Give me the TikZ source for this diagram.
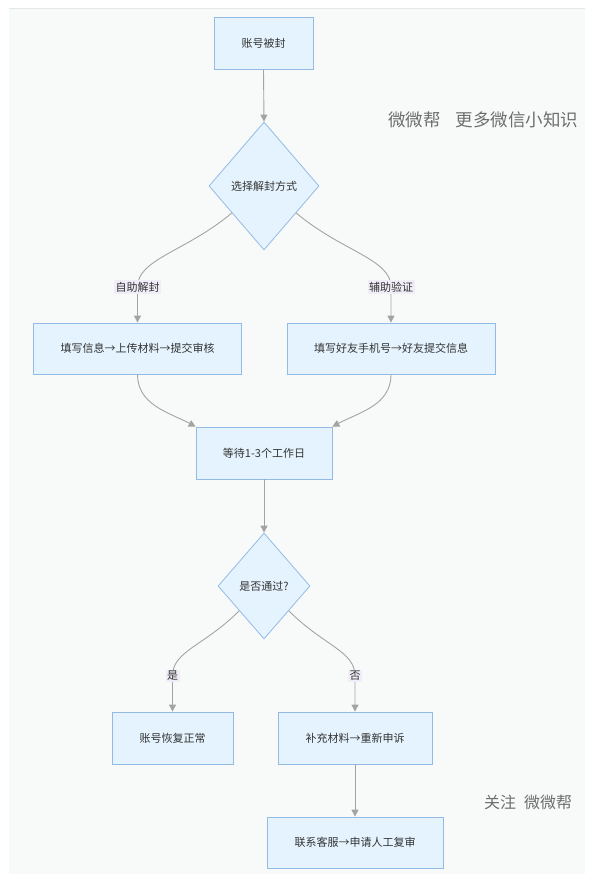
\documentclass[tikz,border=0pt]{standalone}
\usepackage{fontspec}
\setmainfont{Noto Sans CJK SC}
\usetikzlibrary{shapes.geometric,arrows.meta}
\definecolor{panel}{HTML}{F8FAFA}
\definecolor{panelline}{HTML}{E4E7E7}
\definecolor{boxfill}{HTML}{E4F3FD}
\definecolor{boxline}{HTML}{93BBE6}
\definecolor{txt}{HTML}{333333}
\definecolor{arrowc}{HTML}{A3A3A3}
\definecolor{lblfill}{HTML}{F1EDF8}
\definecolor{wmc}{HTML}{6E6E6E}
\begin{document}
\begin{tikzpicture}[x=1pt,y=1pt,
  box/.style={draw=boxline, fill=boxfill, line width=0.8pt, text=txt,
    font=\fontsize{11}{13}\selectfont, inner sep=0pt, minimum height=52pt},
  dia/.style={diamond, draw=boxline, fill=boxfill, line width=0.8pt, text=txt,
    font=\fontsize{11}{13}\selectfont, inner sep=0pt},
  arr/.style={draw=arrowc, line width=0.9pt, -{Triangle[length=7pt,width=7pt]}},
  lbl/.style={fill=lblfill, text=txt, font=\fontsize{11}{13}\selectfont, inner sep=1.5pt},
  wm/.style={text=wmc, inner sep=0pt, anchor=west}
]
\useasboundingbox (0,0) rectangle (595,-883);
\fill[white] (0,0) rectangle (595,-883);
\fill[panel] (9,-8) rectangle (585,-874);
\draw[panelline, line width=0.8pt] (9,-8.5) -- (585,-8.5);

% nodes
\node[box, minimum width=99pt] (b1) at (263.5,-43) {账号被封};
\node[dia, minimum width=110pt, minimum height=128pt] (d1) at (264,-186) {选择解封方式};
\node[box, minimum width=208pt, minimum height=51pt] (L) at (137.5,-348.5) {填写信息→上传材料→提交审核};
\node[box, minimum width=208pt, minimum height=51pt] (R) at (391,-348.5) {填写好友手机号→好友提交信息};
\node[box, minimum width=136pt] (W) at (264,-453) {等待1-3个工作日};
\node[dia, minimum width=92pt, minimum height=106pt] (d2) at (264,-586) {是否通过?};
\node[box, minimum width=121pt] (Y) at (172.5,-738) {账号恢复正常};
\node[box, minimum width=154pt] (N) at (355,-738) {补充材料→重新申诉};
\node[box, minimum width=176pt, minimum height=51pt] (C) at (355,-842.5) {联系客服→申请人工复审};

% label positions
\coordinate (p1) at (137.5,-287);
\coordinate (p2) at (391,-287);
\coordinate (p3) at (172.5,-676);
\coordinate (p4) at (355,-676);

% connectors
\draw[arr] (b1.south) -- (d1.north);
\draw[arr] (d1.220) .. controls +(220:60) and +(90:28) .. (p1) -- (L.north);
\draw[arr] (d1.-40) .. controls +(-40:60) and +(90:28) .. (p2) -- (R.north);
\draw[arr] (L.south) to[out=-90,in=152] (W.north west);
\draw[arr] (R.south) to[out=-90,in=28] (W.north east);
\draw[arr] (W.south) -- (d2.north);
\draw[arr] (d2.225) .. controls +(225:50) and +(90:25) .. (p3) -- (Y.north);
\draw[arr] (d2.-45) .. controls +(-45:50) and +(90:25) .. (p4) -- (N.north);
\draw[arr] (N.south) -- (C.north);

% edge labels
\node[lbl] (l1) at (p1) {自助解封};
\node[lbl] (l2) at (p2) {辅助验证};
\node[lbl] (l3) at (p3) {是};
\node[lbl] (l4) at (p4) {否};

% watermarks
\node[wm, font=\fontsize{17.5}{19}\selectfont] (wm1) at (388,-120) {微微帮\hspace{15pt}更多微信小知识};
\node[wm, font=\fontsize{16}{18}\selectfont] (wm2) at (484,-802) {关注\hspace{8pt}微微帮};
\end{tikzpicture}
\end{document}
